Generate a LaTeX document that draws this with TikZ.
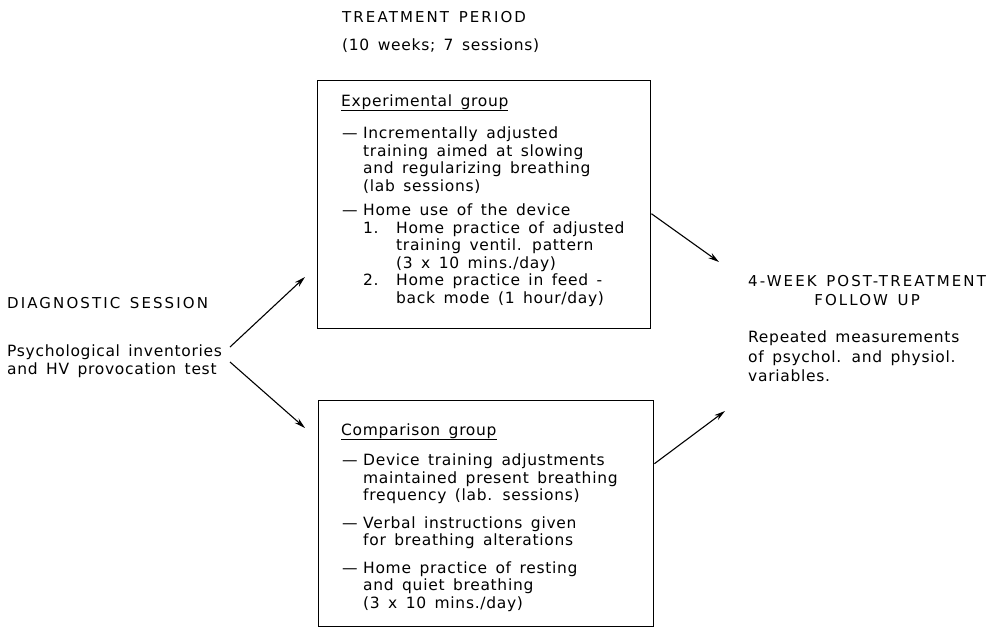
\documentclass[tikz,border=0pt]{standalone}
\usepackage{fontspec}
\setmainfont{DejaVu Sans}[LetterSpace=4.5, WordSpace=1.5]
\newfontfamily\headfont{DejaVu Sans}[LetterSpace=14, WordSpace=1.4]
\usetikzlibrary{arrows.meta}
\newcommand{\itm}{\makebox[21pt][l]{\textemdash}}
\newcommand{\contind}{\hspace*{21pt}}
\newcommand{\subno}[1]{\makebox[33pt][l]{#1}}

\tikzset{
  lbl/.style={font=\fontsize{15.5}{17.5}\selectfont, inner sep=0pt, align=left},
  head/.style={lbl, font=\fontsize{15}{19}\selectfont\headfont},
  groupbox/.style={draw, line width=1.4pt, inner sep=0pt},
  flow/.style={-{Stealth[length=11pt,width=6pt]}, line width=1.1pt}
}

\begin{document}
\begin{tikzpicture}[x=1pt,y=-1pt]
  \useasboundingbox (0,0) rectangle (1003,627);

  % treatment period heading
  \node[head, anchor=base west] (period) at (342,22) {TREATMENT PERIOD};
  \node[lbl, anchor=base west] (weeks) at (342,50) {(10 weeks; 7 sessions)};

  % experimental group
  \node[groupbox, anchor=north west, minimum width=333pt, minimum height=248pt] (expbox) at (317,80) {};
  \node[lbl, anchor=base west] (exptitle) at (341,106) {\underline{Experimental group}};
  \node[lbl, anchor=north west] (explist) at (342,127) {%
    \itm Incrementally adjusted\\
    \contind training aimed at slowing\\
    \contind and regularizing breathing\\
    \contind (lab sessions)\\[7pt]
    \itm Home use of the device\\
    \contind\subno{1.}Home practice of adjusted\\
    \contind\hspace*{33pt}training ventil. pattern\\
    \contind\hspace*{33pt}(3 x 10 mins./day)\\
    \contind\subno{2.}Home practice in feed -\\
    \contind\hspace*{33pt}back mode (1 hour/day)};

  % comparison group
  \node[groupbox, anchor=north west, minimum width=335pt, minimum height=226pt] (cmpbox) at (318,400) {};
  \node[lbl, anchor=base west] (cmptitle) at (341,435) {\underline{Comparison group}};
  \node[lbl, anchor=north west] (cmplist) at (342,454) {%
    \itm Device training adjustments\\
    \contind maintained present breathing\\
    \contind frequency (lab. sessions)\\[10pt]
    \itm Verbal instructions given\\
    \contind for breathing alterations\\[10pt]
    \itm Home practice of resting\\
    \contind and quiet breathing\\
    \contind (3 x 10 mins./day)};

  % diagnostic session
  \node[head, anchor=base west] (diag) at (7,308) {DIAGNOSTIC SESSION};
  \node[lbl, anchor=north west] (diagtext) at (7,345) {Psychological inventories\\and HV provocation test};

  % follow up
  \node[head, align=center, anchor=north west] (follow) at (748,275) {4-WEEK POST-TREATMENT\\FOLLOW UP};
  \node[lbl, font=\fontsize{15.5}{19.5}\selectfont, anchor=north west] (measure) at (748,331) {Repeated measurements\\of psychol. and physiol.\\variables.};

  % connectors
  \coordinate (diagup) at (230,347);
  \coordinate (diagdown) at (230,362);
  \coordinate (expin) at (305,277);
  \coordinate (cmpin) at (305,428);
  \coordinate (followin1) at (719,262);
  \coordinate (followin2) at (725,411);
  \draw[flow] (diagup) -- (expin);
  \draw[flow] (diagdown) -- (cmpin);
  \draw[flow] ([yshift=-9pt]expbox.east) -- (followin1);
  \draw[flow] ([yshift=50pt]cmpbox.east) -- (followin2);
\end{tikzpicture}
\end{document}
